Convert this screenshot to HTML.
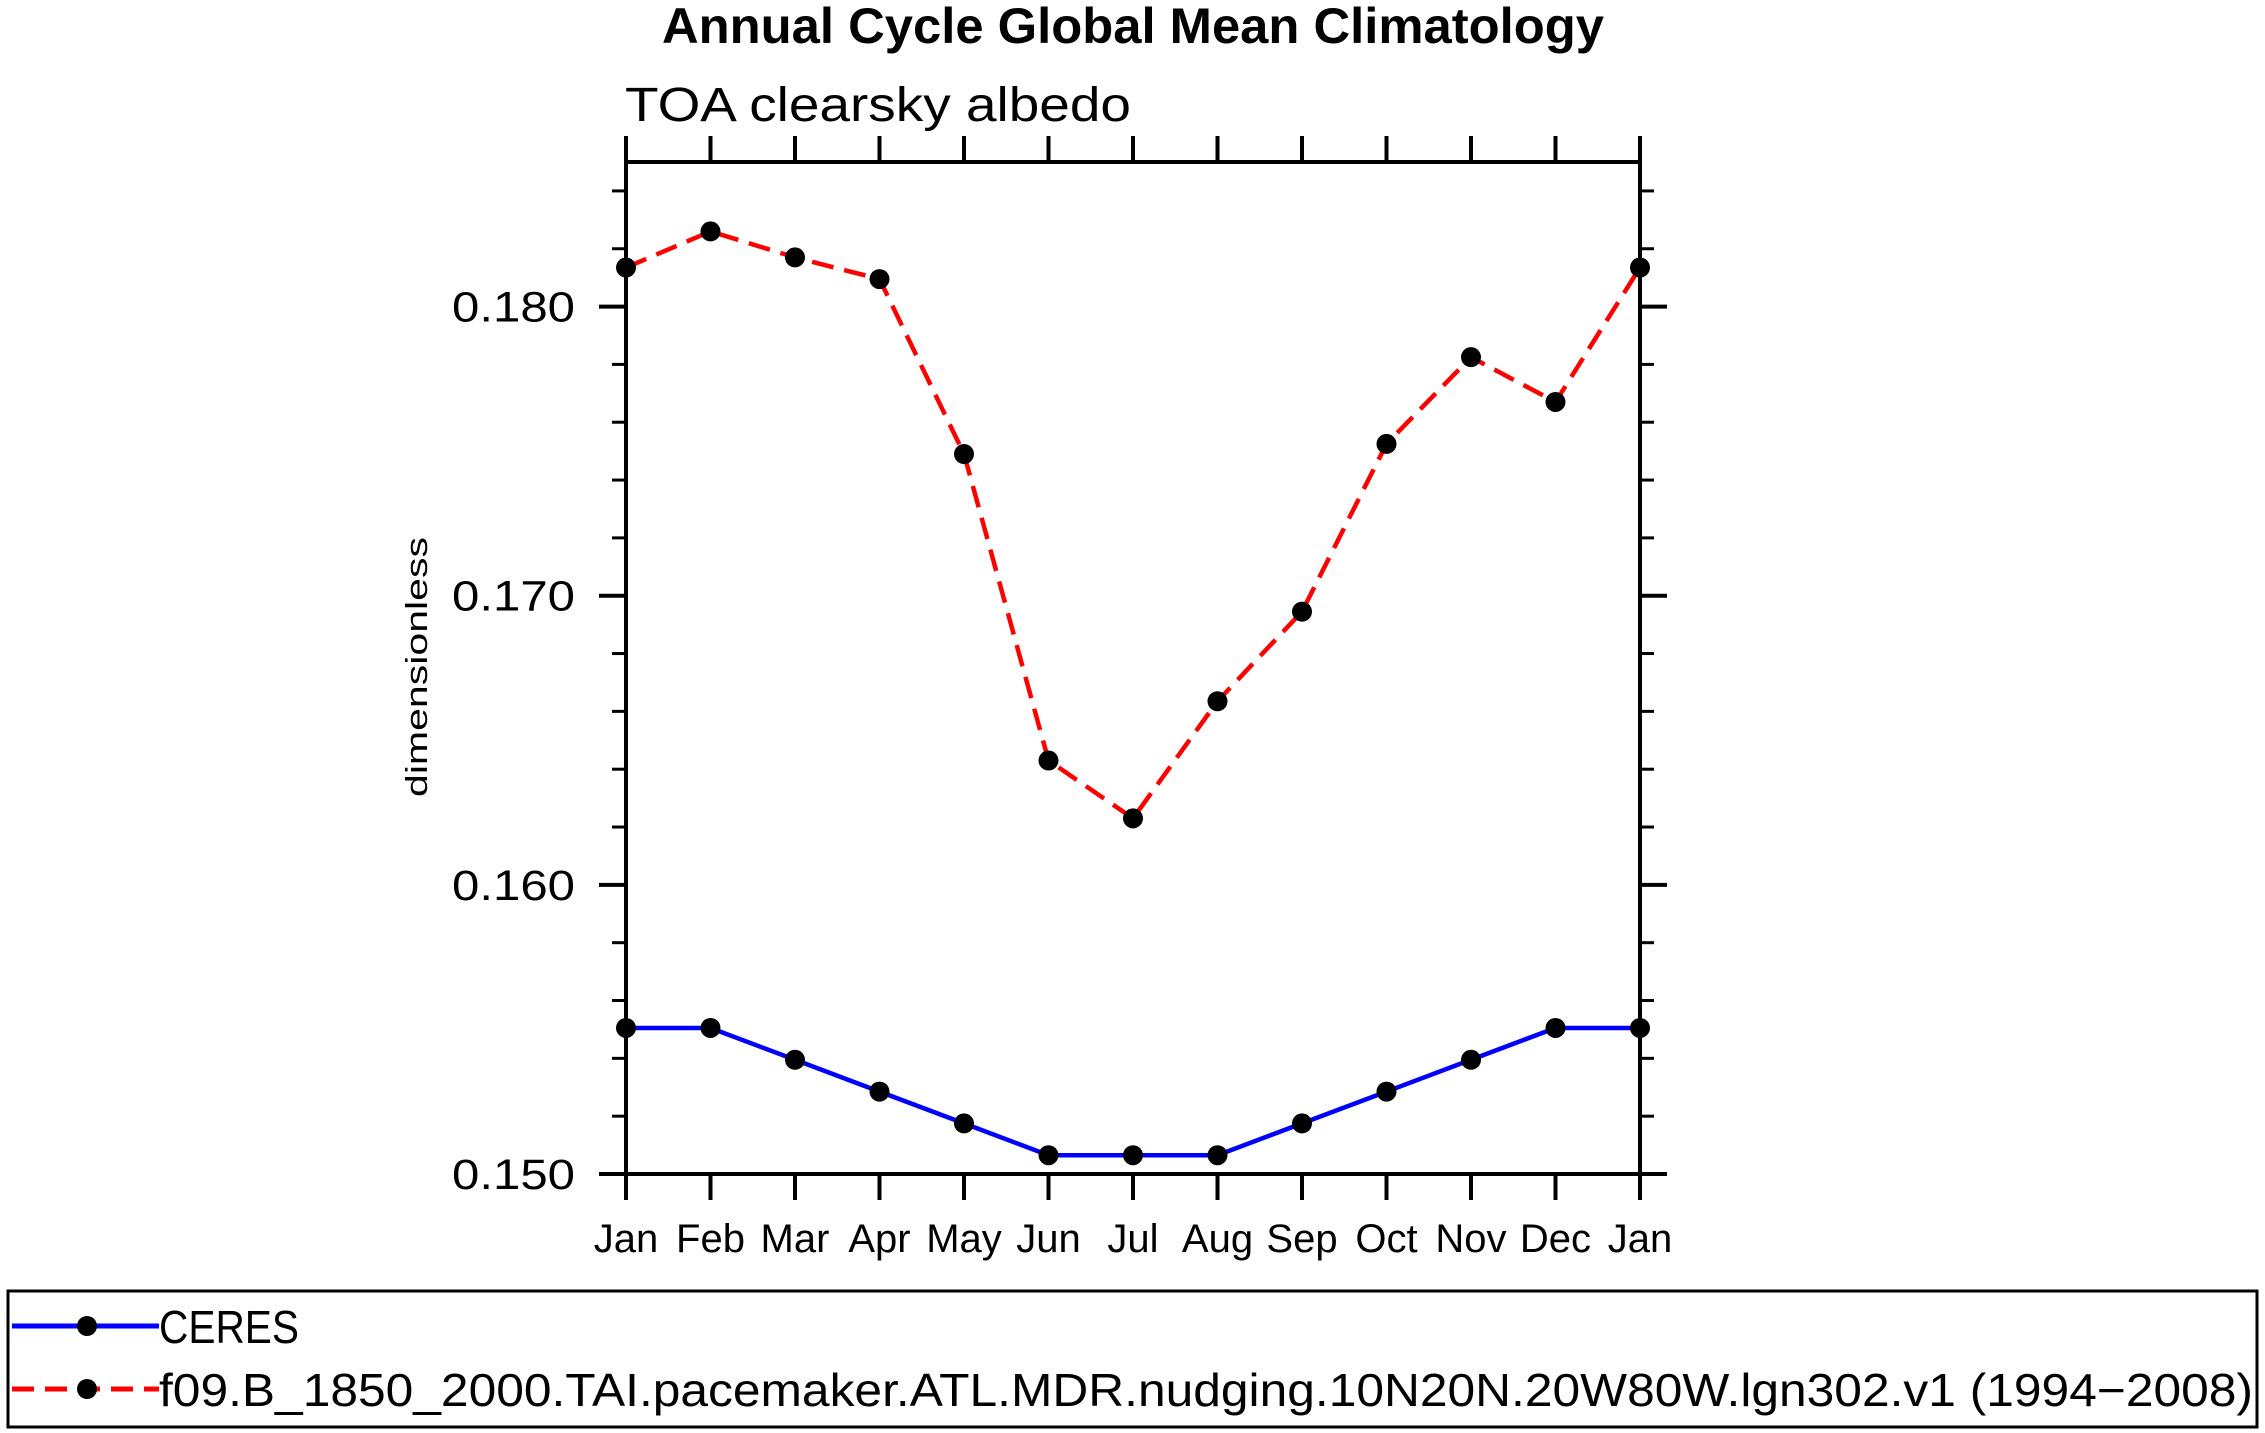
<!DOCTYPE html>
<html><head><meta charset="utf-8"><style>
html,body{margin:0;padding:0;background:#fff;}
svg{display:block;}
text{font-family:"Liberation Sans",sans-serif;fill:#000;}
</style></head><body>
<svg id="chart" width="2265" height="1433" viewBox="0 0 2265 1433" xmlns="http://www.w3.org/2000/svg">
<text x="1133" y="43" text-anchor="middle" font-weight="bold" font-size="50" textLength="942" lengthAdjust="spacingAndGlyphs">Annual Cycle Global Mean Climatology</text>
<text x="625" y="121" font-size="48" textLength="506" lengthAdjust="spacingAndGlyphs">TOA clearsky albedo</text>
<text transform="translate(427,667) rotate(-90)" text-anchor="middle" font-size="31" textLength="260" lengthAdjust="spacingAndGlyphs">dimensionless</text>
<g id="axes"></g>
<g id="series"></g>
<rect x="8" y="1291" width="2249" height="136" fill="none" stroke="#000" stroke-width="3"/>
<g>
<line x1="12" y1="1326" x2="159" y2="1326" stroke="#0000ff" stroke-width="5"/>
<circle cx="87" cy="1326" r="10" fill="#000"/>
<text x="159" y="1343" font-size="46" textLength="140" lengthAdjust="spacingAndGlyphs">CERES</text>
</g>
<g>
<line x1="12" y1="1389" x2="159" y2="1389" stroke="#ff0000" stroke-width="5" stroke-dasharray="22,11"/>
<circle cx="87" cy="1389" r="10" fill="#000"/>
<text x="159" y="1406" font-size="46" textLength="2094" lengthAdjust="spacingAndGlyphs">f09.B_1850_2000.TAI.pacemaker.ATL.MDR.nudging.10N20N.20W80W.lgn302.v1 (1994−2008)</text>
</g>
</svg>
<script>
const months = ["Jan","Feb","Mar","Apr","May","Jun","Jul","Aug","Sep","Oct","Nov","Dec","Jan"];
const ceresValues = [0.15505,0.15505,0.15395,0.15285,0.15175,0.15065,0.15065,0.15065,0.15175,0.15285,0.15395,0.15505,0.15505];
const modelValues = [0.18135,0.1826,0.1817,0.18095,0.1749,0.1643,0.1623,0.16635,0.16945,0.17525,0.17825,0.1767,0.18135];
const yTickValues = [0.150,0.160,0.170,0.180];
const yTickLabels = ["0.150","0.160","0.170","0.180"];
const yMin = 0.150, yMax = 0.185;

const NS = "http://www.w3.org/2000/svg";
const L = 626, R = 1640, T = 162, B = 1174;
function xs(i){ return L + i*(R-L)/(months.length-1); }
function ys(v){ return B - (v-yMin)/(yMax-yMin)*(B-T); }
function mk(tag, attrs, parent){
  const e = document.createElementNS(NS, tag);
  for (const k in attrs) e.setAttribute(k, attrs[k]);
  parent.appendChild(e); return e;
}
const axes = document.getElementById('axes');
const frame = mk('rect',{x:L,y:T,width:R-L,height:B-T,fill:'none',stroke:'#000','stroke-width':4},axes);


months.forEach((m,i)=>{
  const x = xs(i);
  const t1 = mk('line',{x1:x,y1:B,x2:x,y2:B+26,stroke:'#000','stroke-width':4},axes);
  
  
  const t2 = mk('line',{x1:x,y1:T,x2:x,y2:T-26,stroke:'#000','stroke-width':4},axes);
  
  
  const lb = mk('text',{x:x,y:1252,'text-anchor':'middle','font-size':40},axes);
  lb.textContent = m;
  
  
});
for (let k=0;k<=17;k++){
  const v = yMin + k*0.002;
  if (v > yMax+1e-9) break;
  const y = ys(v);
  const a = mk('line',{x1:L-14,y1:y,x2:L,y2:y,stroke:'#000','stroke-width':3},axes);
  
  
  const b = mk('line',{x1:R,y1:y,x2:R+14,y2:y,stroke:'#000','stroke-width':3},axes);
  
  
}
yTickValues.forEach((v,i)=>{
  const y = ys(v);
  const a = mk('line',{x1:L-27,y1:y,x2:L,y2:y,stroke:'#000','stroke-width':4},axes);
  
  
  const b = mk('line',{x1:R,y1:y,x2:R+27,y2:y,stroke:'#000','stroke-width':4},axes);
  
  
  const lb = mk('text',{x:575,y:y+15,'text-anchor':'end','font-size':43,textLength:123,lengthAdjust:'spacingAndGlyphs'},axes);
  lb.textContent = yTickLabels[i];
  
  
});
const series = document.getElementById('series');
function drawSeries(vals, color, dash, name){
  const pts = vals.map((v,i)=>xs(i)+','+ys(v)).join(' ');
  const pl = mk('polyline',{points:pts,fill:'none',stroke:color,'stroke-width':4.5,'stroke-dasharray':dash},series);
  
  
  vals.forEach((v,i)=>{
    const c = mk('circle',{cx:xs(i),cy:ys(v),r:10,fill:'#000'},series);
    
    
  });
}
drawSeries(ceresValues,'#0000ff','none','ceres');
drawSeries(modelValues,'#ff0000','22,11','model');
</script>
</body></html>
